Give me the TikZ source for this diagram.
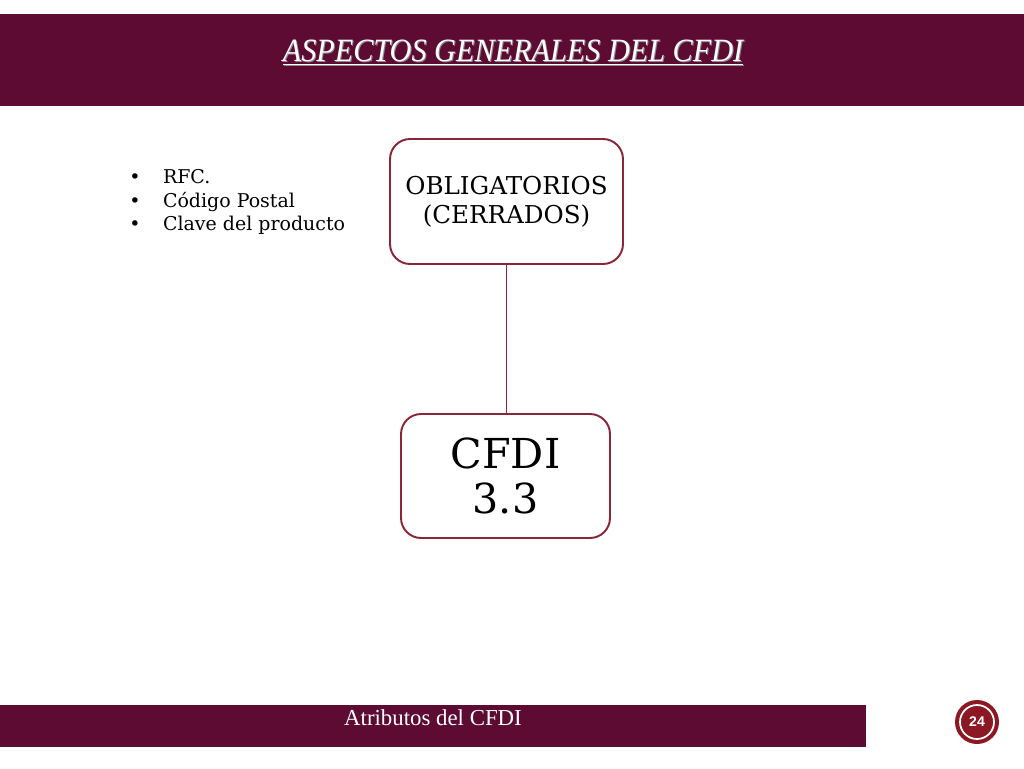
\documentclass[tikz,border=0pt]{standalone}
\usepackage{fontspec}
\setmainfont{DejaVu Serif}
\newfontfamily\titlefont{Liberation Serif}
\newfontfamily\badgefont{Liberation Sans}
\usetikzlibrary{positioning}

\definecolor{vino}{RGB}{94,11,52}
\definecolor{borde}{RGB}{139,38,56}
\definecolor{sello}{RGB}{140,24,36}

\begin{document}
\begin{tikzpicture}[x=0.02cm,y=-0.02cm,
  caja/.style={draw=borde,line width=1.1pt,rounded corners=0.4cm,fill=white,align=center,inner sep=0pt},
  banda/.style={fill=vino,draw=none}]
  \useasboundingbox (0,0) rectangle (1024,768);
  \fill[white] (0,0) rectangle (1024,768);
  % bandas
  \fill[banda] (0,14) rectangle (1024,106);
  \fill[banda] (0,705) rectangle (866,747);
  \node[text=black!45,font=\titlefont\itshape\fontsize{18.5}{20}\selectfont] at (514,54) {\scalebox{0.93}[1]{\underline{ASPECTOS GENERALES DEL CFDI}}};
  \node[text=white,font=\titlefont\itshape\fontsize{18.5}{20}\selectfont] (titulo) at (513,53) {\scalebox{0.93}[1]{\underline{ASPECTOS GENERALES DEL CFDI}}};
  \node[text=white,font=\titlefont\fontsize{13}{15}\selectfont] (pie) at (433,718) {Atributos del CFDI};
  % sello
  \fill[sello] (977,722) circle (22);
  \draw[white,line width=1pt] (977,722) circle (17);
  \node[text=white,font=\badgefont\bfseries\fontsize{8}{9}\selectfont] (num) at (977,722) {24};
  % cajas
  \node[caja,minimum width=4.66cm,minimum height=2.5cm,font=\fontsize{14}{16.5}\selectfont] (oblig) at (506.5,201.5) {OBLIGATORIOS\\(CERRADOS)};
  \node[caja,minimum width=4.18cm,minimum height=2.48cm,font=\fontsize{23.5}{26}\selectfont] (cfdi) at (505.5,476) {CFDI\\3.3};
  \draw[borde,line width=0.9pt] (oblig.south) -- (oblig.south |- cfdi.north);
  % lista
  \node[anchor=north west,inner sep=0pt,font=\fontsize{10.8}{13.3}\selectfont] (lista) at (129,167) {%
    \begin{tabular}{@{}l@{\hspace{0.45cm}}l@{}}
    \textbullet & RFC.\\
    \textbullet & Código Postal\\
    \textbullet & Clave del producto
    \end{tabular}};
\end{tikzpicture}
\end{document}
